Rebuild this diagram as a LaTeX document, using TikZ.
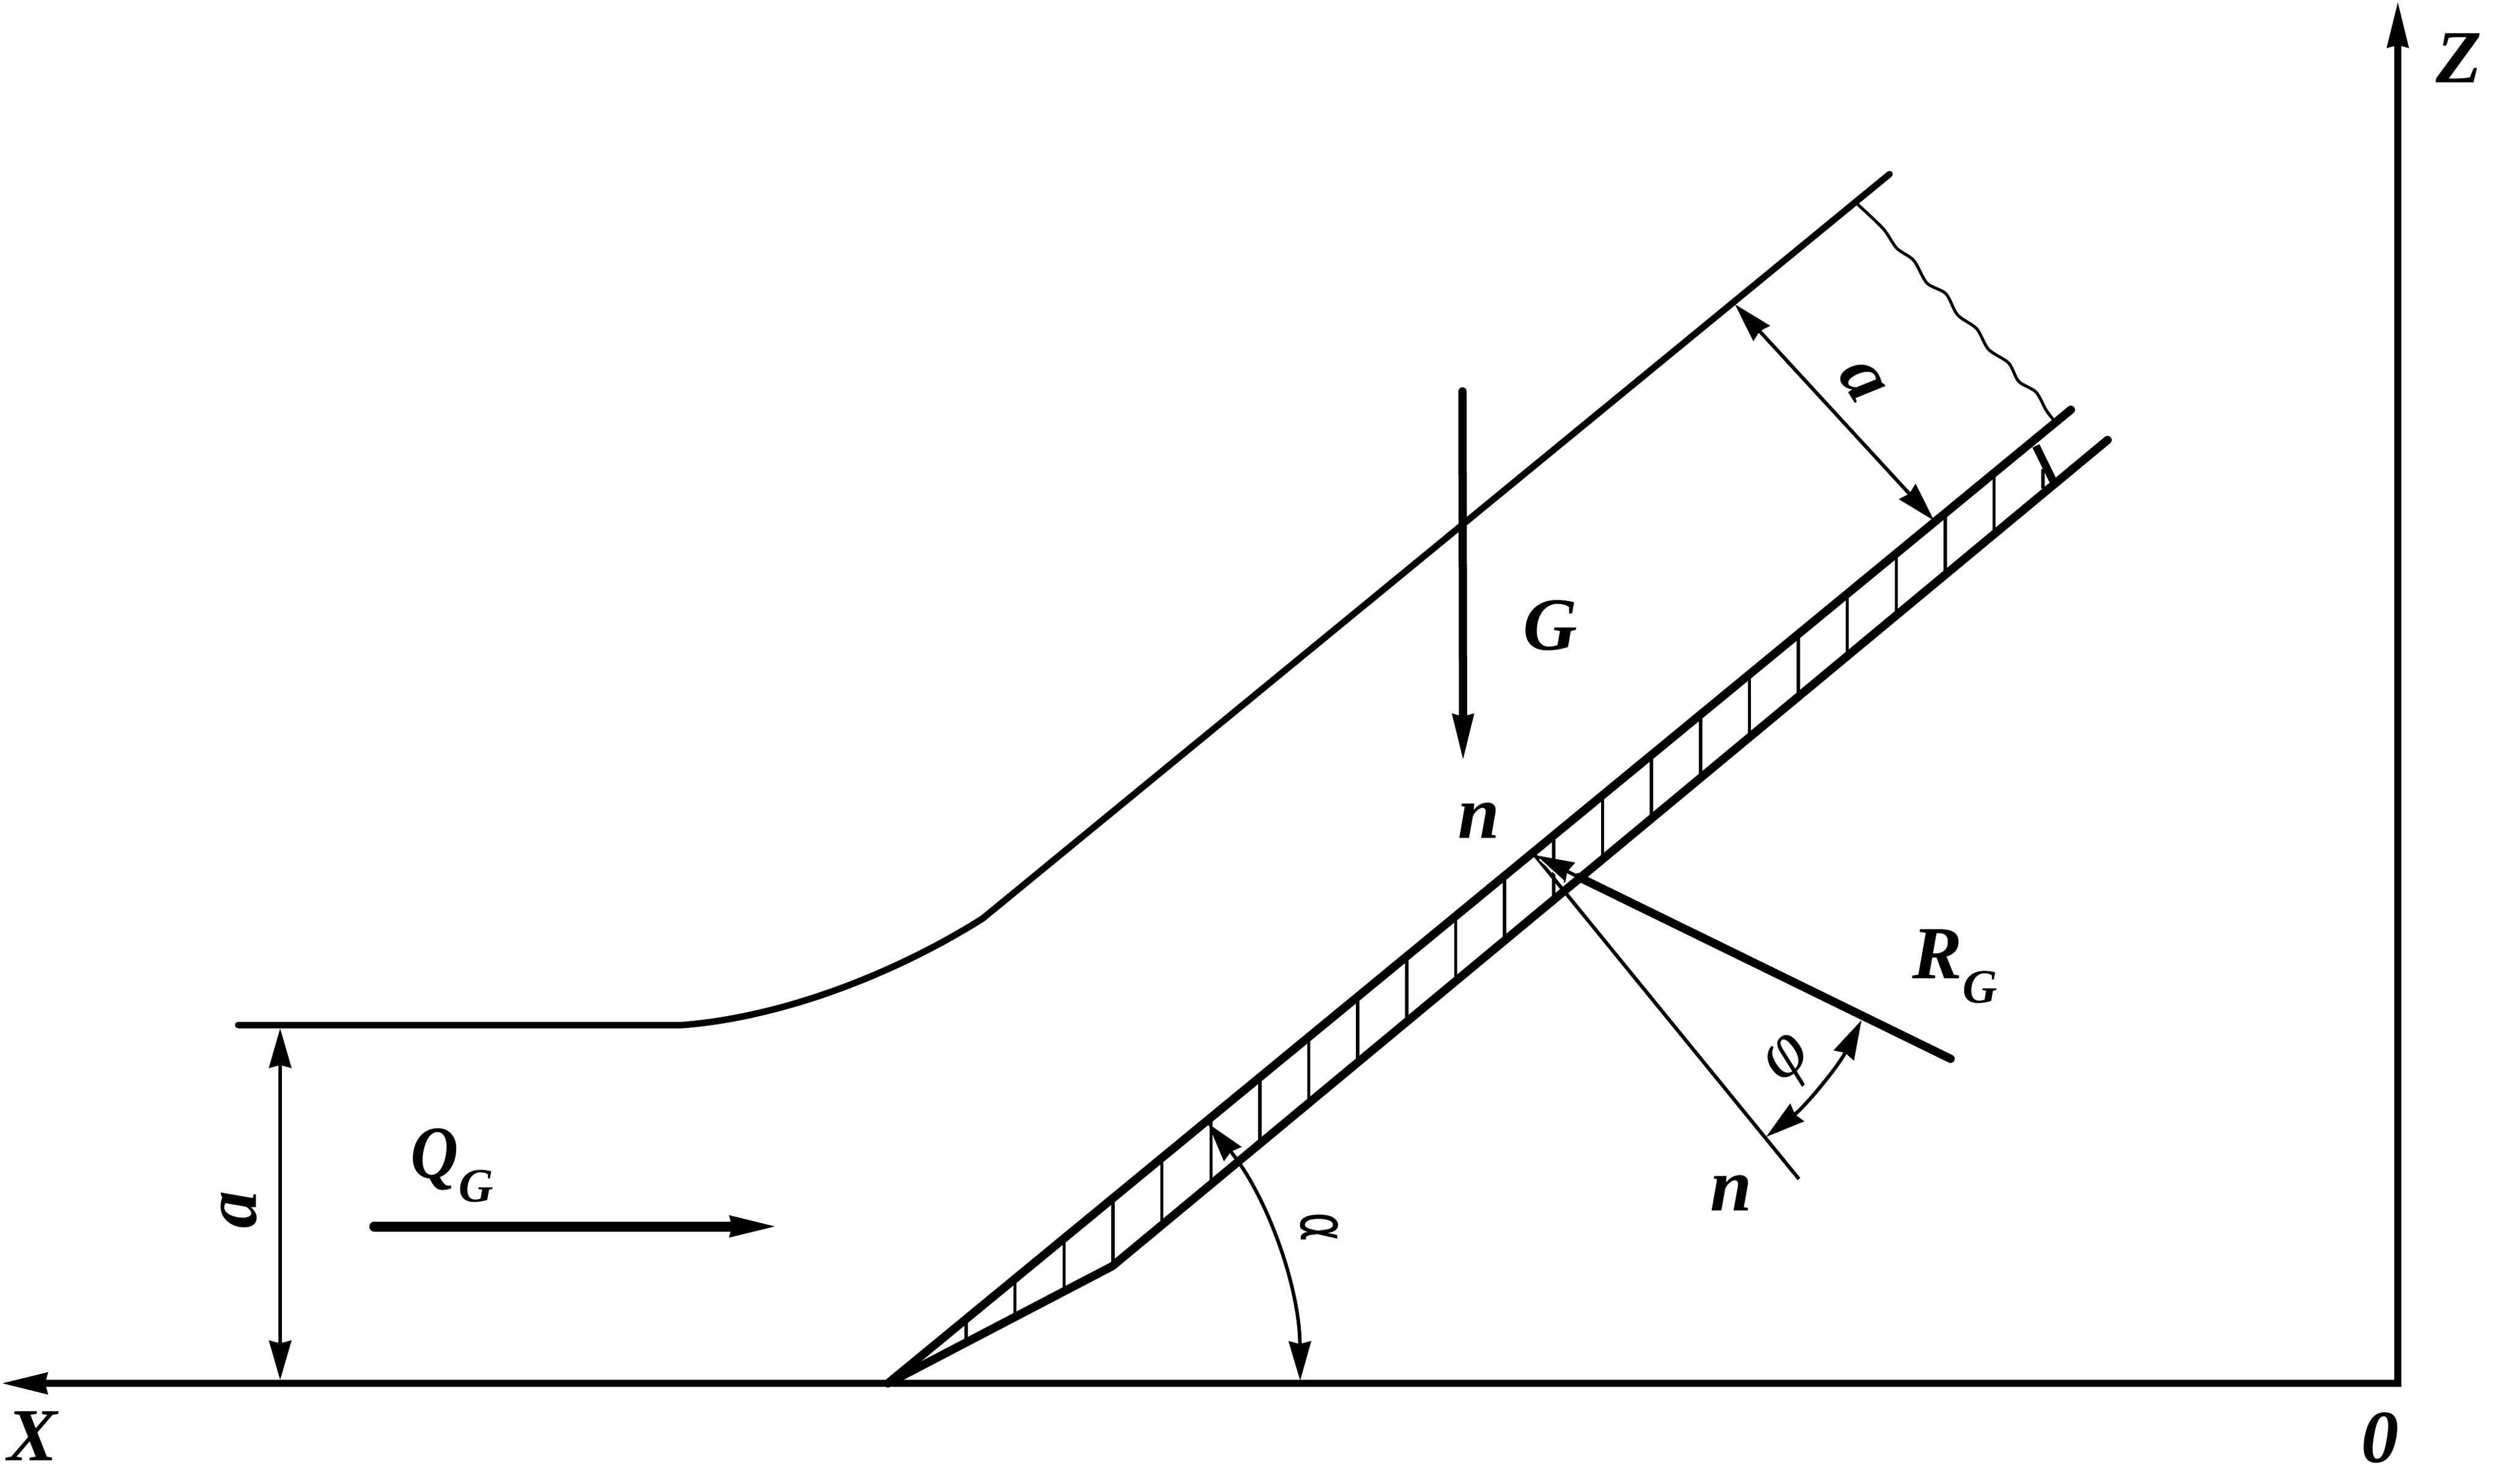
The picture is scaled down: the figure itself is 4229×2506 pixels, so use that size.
\documentclass[tikz,border=0pt]{standalone}
\usepackage{fontspec}
\usepackage{graphicx}
\setmainfont{Liberation Serif}
\newfontfamily\alfont{DejaVu Sans}
\usetikzlibrary{arrows.meta}
\tikzset{
  px/.style={line width=#1*0.2845pt},
  wall/.style={px=14,line cap=round,line join=round},
  thinwall/.style={px=11,line cap=round,line join=round},
  rung/.style={px=5.5},
  dimline/.style={px=6},
  force/.style={line cap=round},
  label/.style={inner sep=0pt,font=\fontsize{36}{36}\selectfont\bfseries\itshape},
  bigtip/.tip={Stealth[length=22pt,width=10.8pt,inset=1.5pt,line width=0pt]},
  dimtip/.tip={Stealth[length=19pt,width=11pt,inset=1.5pt,line width=0pt]},
}
\newcommand{\Sub}[1]{{\fontsize{23}{23}\selectfont #1}}
\begin{document}
\begin{tikzpicture}[x=0.01cm,y=-0.01cm]
\useasboundingbox (0,0) rectangle (4229,2506);
\fill[white] (0,0) rectangle (4229,2506);
% named points
\coordinate (O) at (4048,2336);
\coordinate (Ztop) at (4048,4);
\coordinate (Xend) at (4,2336);
\coordinate (toe) at (1499,2336);
\coordinate (knee) at (1878,2138);
\coordinate (upEnd) at (3496,692);
\coordinate (lowEnd) at (3558,743);
\coordinate (topStart) at (402,1731);
\coordinate (curveA) at (1152,1731);
\coordinate (curveB) at (1659,1551);
\coordinate (topEnd) at (3190,294);
\coordinate (pTip) at (2591,1444);
\coordinate (pMid) at (2665,1481);
\coordinate (rEnd) at (3293,1788);
\coordinate (nEnd) at (3037,1991);
% rungs
\foreach \n in {0,...,21}{
  \pgfmathsetmacro{\xx}{1631+82.65*\n}
  \pgfmathsetmacro{\yu}{2336-0.8232*(\xx-1499)}
  \pgfmathsetmacro{\yl}{\xx<1878 ? 2336-0.517*(\xx-1499) : 2138-0.8300*(\xx-1878)}
  \draw[rung] (\xx,\yu) -- (\xx,\yl);
}
\draw[rung] (3449,792) -- (3449,825);
\draw[px=13] (3437,753) -- (3466,812);
% axes
\draw[px=12,{bigtip}-{bigtip}] (Ztop) -- (O) -- (Xend);
% bed
\draw[wall] (toe) -- (upEnd);
\draw[wall] (lowEnd) -- (knee) -- (toe);
% free surface
\draw[thinwall] (topStart) -- (curveA) .. controls (1320,1718) and (1510,1645) .. (curveB) -- (topEnd);
% wavy end
\draw[px=5,smooth] plot coordinates {(3136,345) (3179,386) (3202,419) (3231,440) (3253,478) (3285,496) (3305,532) (3337,555) (3357,590) (3391,613) (3408,644) (3437,662) (3454,692) (3466,708)};
% dimensions
\draw[dimline,{dimtip}-{dimtip}] (473,1737) -- (473,2330);
\draw[dimline,{dimtip}-{dimtip}] (2929,514) -- (3265,879);
\draw[dimline,{dimtip}-{dimtip}] (1499,2336) ++(-39.1:696) arc[start angle=-39.1,end angle=-0.4,radius=696];
\draw[dimline,{dimtip}-{dimtip}] (2620,1460) ++(26.7:585) arc[start angle=26.7,end angle=51.8,radius=585];
% forces
\draw[px=17,force,-{bigtip}] (632,2071) -- (1308,2071);
\draw[px=14,force,-{bigtip}] (2469,661) -- (2470,1282);
\draw[px=14,force] (rEnd) -- (pMid);
\draw[px=6,-{dimtip}] (pMid) -- (pTip);
\draw[px=6] (pTip) -- (nEnd);
\draw[white,px=2.5] (2599,1451) -- (2640,1488);
% labels
\node[label] (lZ) at (4151,98) {Z};
\node[label] (lX) at (55,2425) {X};
\node[label,anchor=center] (l0) at (4018,2428) {0};
\node[label,rotate=90] (la1) at (403,2043) {a};
\node[label,rotate=-58] (la2) at (3143,644) {a};
\node[label,anchor=west] (lQ) at (693,1968) {\scalebox{0.88}[1]{Q}\raisebox{-0.32em}{\Sub{G}}};
\node[label] (lG) at (2617,1056) {G};
\node[label] (ln1) at (2497,1386) {n};
\node[label] (ln2) at (2923,2015) {n};
\node[label,anchor=west] (lR) at (3228,1632) {R\raisebox{-0.32em}{\Sub{G}}};
\node[label,rotate=42,font=\fontsize{36}{36}\selectfont\itshape] (lphi) at (3024,1795) {φ};
\node[inner sep=0pt,rotate=-90,font=\fontsize{32}{32}\selectfont\alfont] (lalpha) at (2227,2072) {\scalebox{0.67}[1]{α}};
\end{tikzpicture}
\end{document}
